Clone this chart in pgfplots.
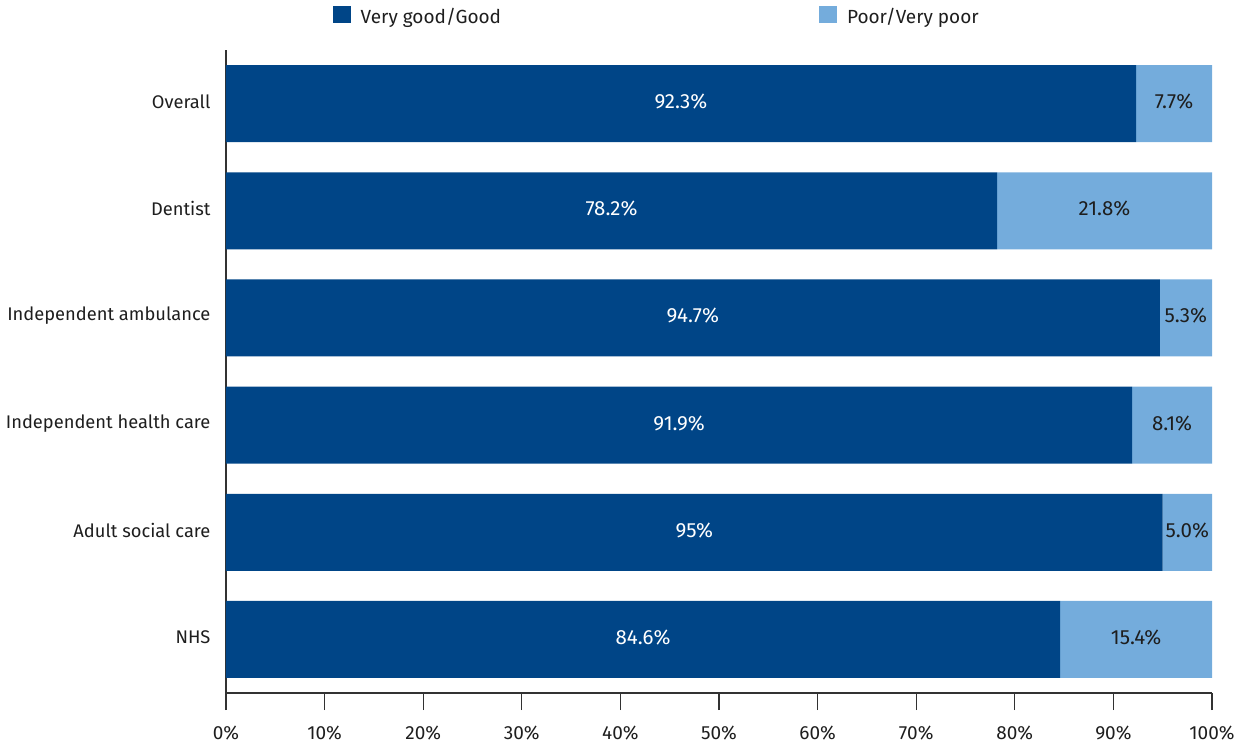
\documentclass[border=0pt]{standalone}
\usepackage{fontspec}
\setmainfont{Fira Sans}
\usepackage{pgfplots}
\usepackage{pgfplotstable}
\pgfplotsset{compat=1.18}
\definecolor{dark}{RGB}{0,69,135}
\definecolor{light}{RGB}{116,172,220}
\definecolor{txt}{RGB}{30,30,30}
\definecolor{axisgray}{RGB}{50,50,50}

\pgfplotstableread{
y good poor gl pl
0 92.3 7.7 92.3 7.7
1 78.2 21.8 78.2 21.8
2 94.7 5.3 94.7 5.3
3 91.9 8.1 91.9 8.1
4 95 5.0 95 5.0
5 84.6 15.4 84.6 15.4
}\data

\begin{document}
\begin{tikzpicture}[x=1pt,y=1pt]
\path[use as bounding box] (0,0) rectangle (1243,745);
\begin{axis}[
  at={(226pt,52pt)}, anchor=south west,
  scale only axis, width=986pt, height=643pt,
  xbar stacked, bar width=77pt,
  xmin=0, xmax=100, ymin=-0.5, ymax=5.5, y dir=reverse,
  axis x line*=bottom, axis y line*=left,
  axis line style={draw=axisgray, line width=1.3pt, -},
  xtick={0,10,...,100},
  xticklabel={\pgfmathprintnumber{\tick}\%},
  /pgf/number format/assume math mode=true,
  tick align=outside,
  major tick length=17pt,
  xtick style={draw=axisgray, line width=1.2pt},
  ytick={0,...,5},
  yticklabels={Overall, Dentist, Independent ambulance, Independent health care, Adult social care, NHS},
  ytick style={draw=none},
  tick label style={font=\fontsize{19}{23}\selectfont, text=txt},
  x tick label style={yshift=-12pt},
  y tick label style={xshift=5pt, yshift=2pt, font=\fontsize{18.3}{22}\selectfont},
  clip=false,
  legend columns=2,
  legend style={draw=none, fill=none, at={(0.105,1.072)}, anchor=north west,
    font=\fontsize{19}{23}\selectfont, text=txt,
    /tikz/every odd column/.append style={column sep=8pt},
    /tikz/every even column/.append style={column sep=316pt}},
  legend image code/.code={\fill[#1] (0pt,-6.5pt) rectangle (18pt,10.5pt);},
]
\addplot[fill=dark, draw=none,
  point meta=explicit symbolic,
  nodes near coords={\pgfplotspointmeta\%},
  every node near coord/.append style={text=white, anchor=center, yshift=2pt, font=\fontsize{20.5}{24}\selectfont}]
  table[x=good, y=y, meta=gl] {\data};
\addlegendentry{Very good/Good}
\addplot[fill=light, draw=none,
  point meta=explicit symbolic,
  nodes near coords={\pgfplotspointmeta\%},
  every node near coord/.append style={text=txt, anchor=center, yshift=2pt, font=\fontsize{20.5}{24}\selectfont}]
  table[x=poor, y=y, meta=pl] {\data};
\addlegendentry{Poor/Very poor}
\end{axis}
\end{tikzpicture}
\end{document}
